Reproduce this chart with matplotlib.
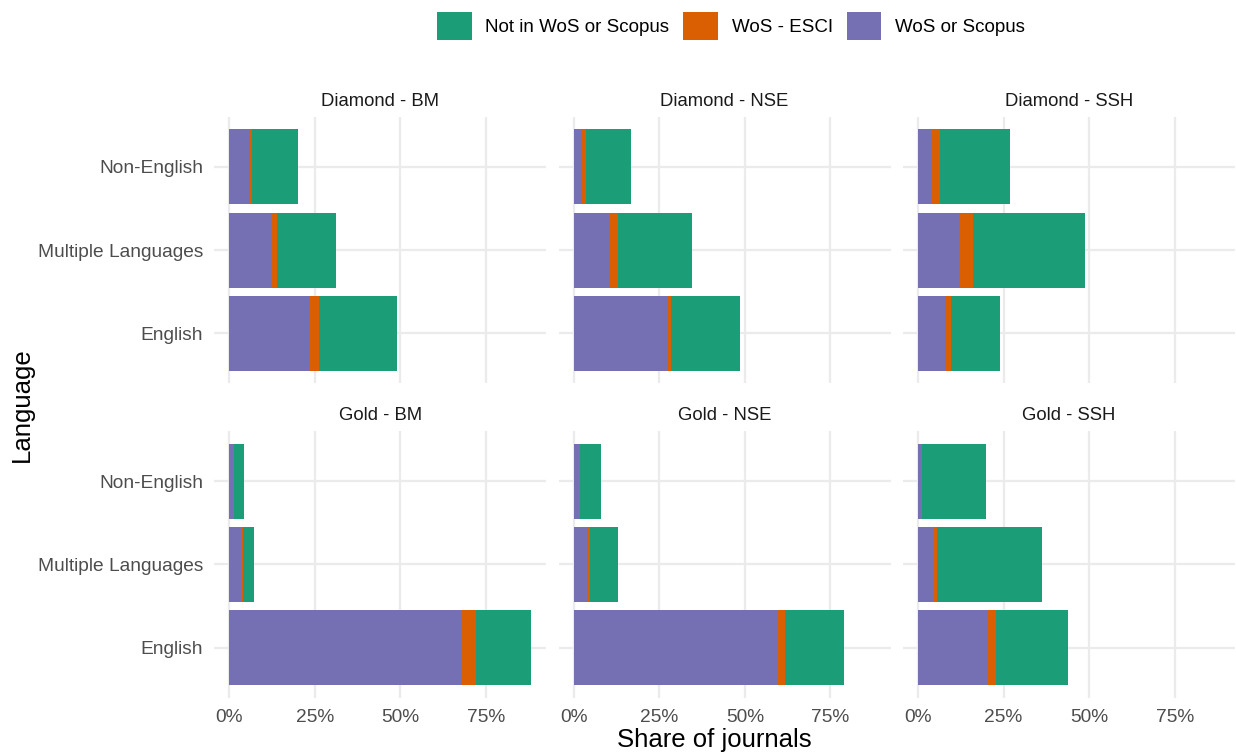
import matplotlib
matplotlib.use("Agg")
import matplotlib.pyplot as plt
from matplotlib.patches import Patch
from matplotlib.ticker import FuncFormatter

plt.rcParams["font.family"] = ["Liberation Sans", "DejaVu Sans"]

# shares (%) per panel, order: English, Multiple Languages, Non-English
languages = ["English", "Multiple Languages", "Non-English"]
panels = ["Diamond - BM", "Diamond - NSE", "Diamond - SSH",
          "Gold - BM", "Gold - NSE", "Gold - SSH"]

wos_scopus = {
    "Diamond - BM": [23.4, 12.6, 5.8],
    "Diamond - NSE": [27.2, 10.6, 2.3],
    "Diamond - SSH": [8.2, 12.4, 3.9],
    "Gold - BM": [67.7, 3.6, 1.4],
    "Gold - NSE": [59.8, 4.3, 1.8],
    "Gold - SSH": [20.4, 4.7, 1.2],
}
wos_esci = {
    "Diamond - BM": [2.9, 1.2, 0.8],
    "Diamond - NSE": [1.2, 2.4, 1.3],
    "Diamond - SSH": [1.3, 3.8, 2.4],
    "Gold - BM": [4.5, 0.3, 0.1],
    "Gold - NSE": [1.8, 0.4, 0.05],
    "Gold - SSH": [2.4, 0.9, 0.05],
}
not_indexed = {
    "Diamond - BM": [22.6, 17.3, 13.4],
    "Diamond - NSE": [20.3, 21.7, 13.0],
    "Diamond - SSH": [14.5, 32.7, 20.7],
    "Gold - BM": [16.0, 3.4, 2.7],
    "Gold - NSE": [17.5, 8.2, 6.0],
    "Gold - SSH": [21.0, 30.7, 18.5],
}

GREEN, ORANGE, PURPLE = "#1B9E77", "#D95F02", "#7570B3"
GRID = "#EBEBEB"
TXT = "#4D4D4D"

W, H = 1236, 754
fig = plt.figure(figsize=(W / 100, H / 100), dpi=100)

lefts = [214.2, 558.6, 902.9]
tops = [116.7, 431.1]
pw, ph = 332, 266.7

ypos = [1, 2, 3]
for i, name in enumerate(panels):
    r, c = divmod(i, 3)
    ax = fig.add_axes([lefts[c] / W, 1 - (tops[r] + ph) / H, pw / W, ph / H])
    a = wos_scopus[name]
    b = wos_esci[name]
    g = not_indexed[name]
    ab = [x + y for x, y in zip(a, b)]
    ax.barh(ypos, a, height=0.9, color=PURPLE, zorder=2)
    ax.barh(ypos, b, left=a, height=0.9, color=ORANGE, zorder=2)
    ax.barh(ypos, g, left=ab, height=0.9, color=GREEN, zorder=2)

    ax.set_xlim(-4.41, 92.6)
    ax.set_ylim(0.4, 3.6)
    ax.set_xticks([0, 25, 50, 75])
    ax.xaxis.set_major_formatter(FuncFormatter(lambda v, p: f"{v:.0f}%"))
    ax.set_yticks(ypos)
    ax.set_yticklabels(languages)
    ax.grid(True, color=GRID, linewidth=1.6, zorder=0)
    ax.set_axisbelow(True)
    for s in ax.spines.values():
        s.set_visible(False)
    ax.tick_params(length=0, labelsize=13.8, labelcolor=TXT, pad=8)
    if c > 0:
        ax.tick_params(labelleft=False)
    if r == 0:
        ax.tick_params(labelbottom=False)
    ax.text(0.5, 1 + 15.5 / ph, name, transform=ax.transAxes, ha="center",
            va="center", fontsize=13.3, color="#1A1A1A")

fig.text(714 / W, 1 - 740 / H, "Share of journals", ha="center",
         va="center", fontsize=18.5, color="black")
fig.text(22 / W, 1 - 405 / H, "Language", ha="center", va="center",
         rotation=90, fontsize=18.5, color="black")

handles = [Patch(facecolor=GREEN, label="Not in WoS or Scopus"),
           Patch(facecolor=ORANGE, label="WoS - ESCI"),
           Patch(facecolor=PURPLE, label="WoS or Scopus")]
fig.legend(handles=handles, loc="center", bbox_to_anchor=(731 / W, 1 - 26 / H),
           ncol=3, frameon=False, fontsize=13.5, handlelength=1.84,
           handleheight=1.84, handletextpad=0.74, columnspacing=0.74,
           borderaxespad=0, borderpad=0)

fig.savefig("out.png", dpi=100, facecolor="white")
